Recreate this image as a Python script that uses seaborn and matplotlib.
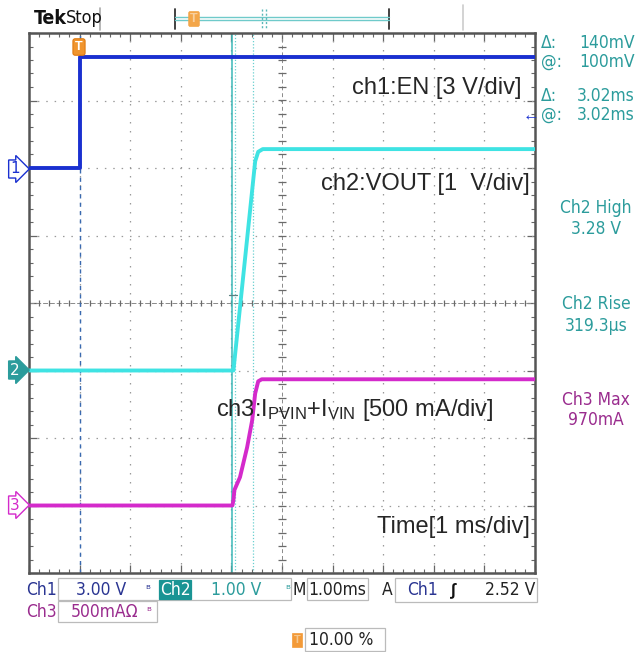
import numpy as np
import pandas as pd
import matplotlib
matplotlib.use("Agg")
import matplotlib.pyplot as plt
import seaborn as sns

# ---- captured waveforms (time in ms relative to trigger) ----
ch1_t = [-1.0, 0.0, 0.0, 9.0]
ch1_v = [0.0, 0.0, 4.95, 4.95]            # EN, volts

ch2_t = [-1.0, 3.04, 3.47, 3.53, 3.62, 9.0]
ch2_v = [0.0, 0.0, 3.10, 3.24, 3.28, 3.28]  # VOUT, volts

ch3_t = [-1.0, 3.02, 3.04, 3.06, 3.17, 3.31, 3.41, 3.47, 3.53, 3.60, 9.0]
ch3_i = [0, 0, 40, 115, 210, 430, 630, 830, 920, 935, 935]  # IPVIN+IVIN, mA

# channel settings: scale per division and ground position (divisions from centre)
ch_scale = [3.0, 1.0, 500.0]
ch_offset = [2.0, -1.0, -3.0]

cursor_t = [0.0, 3.02]
rise_marks_t = [3.10, 3.42]

meas_labels = ["Ch2 High", "Ch2 Rise", "Ch3 Max"]
meas_values = ["3.28 V", "319.3\u00b5s", "970mA"]

BLUE = "#1a30d0"
CYAN = "#3fe3e3"
MAGENTA = "#d42acb"
TEAL = "#2c9c9c"
PURPLE = "#9a2c8e"
NAVY = "#2a3592"

W, H = 643, 652


def fx(x):
    return x / W


def fy(y):
    return 1 - y / H


sns.set_style("white")
plt.rcParams["font.family"] = ["Liberation Sans", "DejaVu Sans"]
plt.rcParams["mathtext.fontset"] = "custom"
plt.rcParams["mathtext.rm"] = "Liberation Sans"
plt.rcParams["mathtext.it"] = "Liberation Sans"

fig = plt.figure(figsize=(W / 100, H / 100), dpi=100)
ax = fig.add_axes([fx(29), fy(573), fx(535) - fx(29), fy(33) - fy(573)])

frames = []
for name, t, val, k in [("ch1", ch1_t, ch1_v, 0), ("ch2", ch2_t, ch2_v, 1), ("ch3", ch3_t, ch3_i, 2)]:
    d = np.asarray(val, dtype=float) / ch_scale[k] + ch_offset[k]
    frames.append(pd.DataFrame({"t": t, "div": d, "ch": name}))
df = pd.concat(frames, ignore_index=True)

# graticule: dotted division lines
for xv in np.arange(-1, 10, 1):
    if xv in (-1, 4, 9):
        continue
    ax.axvline(xv, color="#9a9a9a", lw=0.9, ls=(0, (1.2, 6.0)), zorder=1)
for yv in np.arange(-3, 4, 1):
    if yv == 0:
        continue
    ax.axhline(yv, color="#9a9a9a", lw=0.9, ls=(0, (1.2, 5.5)), zorder=1)
# centre crosshair with minor ticks
ax.axhline(0, color="#8a8a8a", lw=0.7, ls=(0, (5, 2)), zorder=1)
ax.axvline(4, color="#8a8a8a", lw=0.7, ls=(0, (4, 3)), zorder=1)
ax.plot(np.arange(-1, 9.01, 0.2), np.zeros(51), ls="none", marker="|", ms=5, mew=0.9, color="#6a6a6a", zorder=1)
ax.plot(np.full(41, 4.0), np.arange(-4, 4.01, 0.2), ls="none", marker="_", ms=6, mew=0.9, color="#6a6a6a", zorder=1)

# cursors and rise-time markers
ax.axvline(cursor_t[0], color="#3a6ab0", lw=1.0, ls=(0, (3, 3)), zorder=2)
ax.axvline(cursor_t[1], color="#3ab8b8", lw=1.1, zorder=2)
ax.axvline(cursor_t[1] + 0.06, color="#6ad0d0", lw=0.9, ls=(0, (1, 1.5)), zorder=2)
for tm in rise_marks_t[1:]:
    ax.axvline(tm, color="#6ad0d0", lw=0.9, ls=(0, (1, 1.5)), zorder=2)
ax.plot([2.96, 3.12], [0.12, 0.12], color="#5a8080", lw=0.9, zorder=2)

sns.lineplot(data=df, x="t", y="div", hue="ch", estimator=None,
             palette={"ch1": BLUE, "ch2": CYAN, "ch3": MAGENTA},
             sort=False, lw=2.8, legend=False, ax=ax, zorder=3)

ax.set_xlim(-1, 9)
ax.set_ylim(-4, 4)

# frame with graduated ticks
for s in ax.spines.values():
    s.set_color("#555555")
    s.set_linewidth(1.8)
ax.set_xticks(np.arange(-1, 9.01, 1))
ax.set_yticks(np.arange(-4, 4.01, 1))
ax.set_xticks(np.arange(-1, 9.01, 0.2), minor=True)
ax.set_yticks(np.arange(-4, 4.01, 0.2), minor=True)
ax.tick_params(which="both", direction="in", top=True, right=True, bottom=True, left=True,
               labelbottom=False, labelleft=False, color="#666666")
ax.tick_params(which="major", length=6, width=0.9)
ax.tick_params(which="minor", length=3, width=0.8)
ax.set_xlabel("")
ax.set_ylabel("")

# channel annotations inside the graticule
lab_kw = dict(fontsize=17, color="#262626", va="center")
fig.text(fx(522), fy(88), "ch1:EN [3 V/div]", ha="right", **lab_kw)
fig.text(fx(530), fy(184), "ch2:VOUT [1  V/div]", ha="right", **lab_kw)
fig.text(fx(216), fy(410), r"ch3:I$_{\mathrm{PVIN}}$+I$_{\mathrm{VIN}}$ [500 mA/div]", ha="left", **lab_kw)
fig.text(fx(530), fy(527), "Time[1 ms/div]", ha="right", **lab_kw)

# ground markers on the left edge
cond = ["DejaVu Sans"]
for y, lbl, ec, fc, tc in [(169, "1", BLUE, "white", BLUE), (370, "2", TEAL, TEAL, "white"),
                           (505, "3", MAGENTA, "white", MAGENTA)]:
    fig.text(fx(15), fy(y), lbl, ha="center", va="center", fontsize=11, color=tc, family=cond,
             bbox=dict(boxstyle="rarrow,pad=0.1", fc=fc, ec=ec, lw=1.0))

# trigger marker
fig.text(fx(79), fy(47), "T", ha="center", va="center", fontsize=9, color="white", weight="bold",
         bbox=dict(boxstyle="round,pad=0.18", fc="#f0952e", ec="#e07a10", lw=0.8))

# top status bar
fig.text(fx(34), fy(18), "Tek", fontsize=14, weight="bold", color="#111111", va="center",
         family=cond, fontstretch="condensed")
fig.text(fx(66), fy(18), "Stop", fontsize=13, color="#111111", va="center", family=cond,
         fontstretch="condensed")
fig.add_artist(plt.Line2D([fx(100), fx(100)], [fy(8), fy(30)], color="#aaaaaa", lw=1.2))
fig.add_artist(plt.Line2D([fx(463), fx(463)], [fy(5), fy(30)], color="#cccccc", lw=1.2))
fig.add_artist(plt.Line2D([fx(175), fx(175)], [fy(9), fy(29)], color="#333333", lw=1.3))
fig.add_artist(plt.Line2D([fx(389), fx(389)], [fy(9), fy(29)], color="#333333", lw=1.3))
fig.add_artist(plt.Line2D([fx(175), fx(389)], [fy(17), fy(17)], color="#6fcaca", lw=1.0))
fig.add_artist(plt.Line2D([fx(175), fx(389)], [fy(20), fy(20)], color="#6fcaca", lw=1.0))
fig.add_artist(plt.Line2D([fx(262), fx(262)], [fy(9), fy(29)], color="#5ab8b8", lw=1.0, ls=(0, (1.5, 1.5))))
fig.add_artist(plt.Line2D([fx(266), fx(266)], [fy(9), fy(29)], color="#5ab8b8", lw=1.0, ls=(0, (1.5, 1.5))))
fig.text(fx(194), fy(19), "T", ha="center", va="center", fontsize=9, color="#f8d0a0", weight="bold",
         bbox=dict(boxstyle="round,pad=0.12", fc="#f3a64a", ec="#f3a64a", lw=0.5))

# cursor readouts
rk = dict(fontsize=12.5, color=TEAL, va="center", family=cond, fontstretch="condensed")
for y, sym, val in [(43, "\u0394:", "140mV"), (62, "@:", "100mV"), (96, "\u0394:", "3.02ms"), (115, "@:", "3.02ms")]:
    fig.text(fx(541), fy(y), sym, ha="left", **rk)
    fig.text(fx(635), fy(y), val, ha="right", **rk)
fig.text(fx(531), fy(116), "\u2190", ha="center", va="center", fontsize=12, color=BLUE, weight="bold")

# automatic measurements
mk = dict(fontsize=12.5, va="center", ha="center", family=cond, fontstretch="condensed")
for (y1, y2), lab, val, c in zip([(208, 229), (304, 326), (400, 420)], meas_labels, meas_values,
                                 [TEAL, TEAL, PURPLE]):
    fig.text(fx(596), fy(y1), lab, color=c, **mk)
    fig.text(fx(596), fy(y2), val, color=c, **mk)

# bottom settings bar
bk = dict(fontsize=12.5, va="center", family=cond, fontstretch="condensed")


def box(x0, x1, y0, y1, fc="white", ec="#bbbbbb"):
    fig.add_artist(plt.Rectangle((fx(x0), fy(y1)), fx(x1) - fx(x0), fy(y0) - fy(y1),
                                 fc=fc, ec=ec, lw=0.9))


box(58, 291, 578, 600)
box(307, 368, 578, 600)
box(395, 537, 578, 602)
box(58, 157, 601, 622)
box(159, 191, 580, 599, fc="#1a9494", ec="#1a9494")
box(305, 385, 628, 651)

fig.text(fx(26), fy(590), "Ch1", color=NAVY, **bk)
fig.text(fx(76), fy(590), "3.00 V", color=NAVY, **bk)
fig.text(fx(145), fy(590), "\u1d2e", color=NAVY, fontsize=8, va="center", family=cond)
fig.text(fx(160), fy(590), "Ch2", color="white", **bk)
fig.text(fx(211), fy(590), "1.00 V", color=TEAL, **bk)
fig.text(fx(285), fy(590), "\u1d2e", color=TEAL, fontsize=8, va="center", family=cond)
fig.text(fx(292), fy(590), "M", color="#222222", **bk)
fig.text(fx(308), fy(590), "1.00ms", color="#222222", **bk)
fig.text(fx(382), fy(590), "A", color="#222222", **bk)
fig.text(fx(407), fy(590), "Ch1", color=NAVY, **bk)
fig.text(fx(451), fy(590), "\u222b", color="#111111", fontsize=12, va="center", weight="bold")
fig.text(fx(535), fy(590), "2.52 V", color="#222222", ha="right", **bk)
fig.text(fx(26), fy(612), "Ch3", color=PURPLE, **bk)
fig.text(fx(71), fy(612), "500mA\u03a9", color=PURPLE, **bk)
fig.text(fx(146), fy(612), "\u1d2e", color=PURPLE, fontsize=8, va="center", family=cond)
fig.text(fx(297), fy(640), "T", ha="center", va="center", fontsize=8, color="#f5c890", weight="bold",
         bbox=dict(boxstyle="square,pad=0.15", fc="#f39a38", ec="#f39a38", lw=0.5))
fig.text(fx(309), fy(640), "10.00 %", color="#222222", **bk)

fig.savefig("out.png", dpi=100, facecolor="white")
